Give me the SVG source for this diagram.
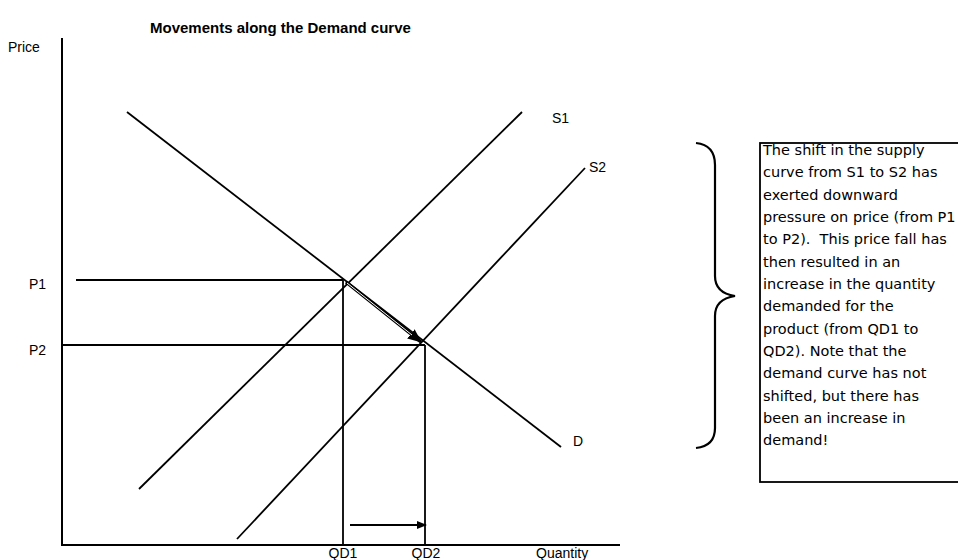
<svg xmlns="http://www.w3.org/2000/svg" width="958" height="560" viewBox="0 0 958 560">
<defs>
<style>
.ax{stroke:#000;stroke-width:2;fill:none}
.ln{stroke:#000;stroke-width:1.8;fill:none}
.lbl{font-family:"Liberation Sans",Arial,sans-serif;font-size:14px;fill:#000}
.note{font-family:"DejaVu Sans","Liberation Sans",sans-serif;font-size:14.5px;fill:#000}
</style>
<marker id="ah" markerWidth="10" markerHeight="8" refX="9" refY="4" orient="auto" markerUnits="userSpaceOnUse">
<path d="M0,0 L10,4 L0,8 Z" fill="#000"/>
</marker>
<marker id="ah2" markerWidth="14" markerHeight="12" refX="13" refY="6" orient="auto" markerUnits="userSpaceOnUse">
<path d="M0,0 L14,6 L0,12 Z" fill="#000"/>
</marker>
</defs>
<rect width="958" height="560" fill="#fff"/>
<text x="150" y="33" font-family="Liberation Sans,Arial,sans-serif" font-size="15" font-weight="bold">Movements along the Demand curve</text>
<g id="axes">
<line class="ax" x1="62" y1="38" x2="62" y2="546"/>
<line class="ax" x1="61" y1="545" x2="620" y2="545"/>
<text class="lbl" x="8" y="52">Price</text>
<text class="lbl" x="536" y="558">Quantity</text>
</g>
<g id="curve-D">
<line class="ln" x1="127" y1="112" x2="561" y2="447"/>
<text class="lbl" x="573" y="446">D</text>
</g>
<g id="curve-S1">
<line class="ln" x1="139" y1="489" x2="522" y2="112"/>
<text class="lbl" x="552" y="123">S1</text>
</g>
<g id="curve-S2">
<line class="ln" x1="237" y1="539" x2="585" y2="168"/>
<text class="lbl" x="589" y="172">S2</text>
</g>
<g id="price-lines">
<line class="ln" x1="76" y1="280" x2="343" y2="280"/>
<line class="ln" x1="62" y1="345" x2="425" y2="345"/>
<text class="lbl" x="29" y="289">P1</text>
<text class="lbl" x="29" y="355">P2</text>
</g>
<g id="quantity-lines">
<line class="ln" x1="343" y1="280" x2="343" y2="545"/>
<line class="ln" x1="425" y1="345" x2="425" y2="545"/>
<text class="lbl" x="343" y="558" text-anchor="middle">QD1</text>
<text class="lbl" x="426" y="558" text-anchor="middle">QD2</text>
</g>
<g id="connectors">
<line x1="346" y1="282" x2="421" y2="342" stroke="#000" stroke-width="3.5" marker-end="url(#ah2)"/>
<line x1="347" y1="283" x2="412" y2="335" stroke="#fff" stroke-width="1"/>
<line x1="350" y1="525" x2="426" y2="525" stroke="#000" stroke-width="1.8" marker-end="url(#ah)"/>
</g>
<g id="brace">
<path d="M696,143 Q715,145 715,165 L715,276 Q715,293 735,296 Q715,299 715,316 L715,428 Q715,446 696,448" fill="none" stroke="#000" stroke-width="2.2"/>
</g>
<g id="note">
<rect x="760" y="143" width="210" height="339" fill="#fff" stroke="#000" stroke-width="1.8"/>
<text class="note">
<tspan x="763" y="155">The shift in the supply</tspan>
<tspan x="763" y="177">curve from S1 to S2 has</tspan>
<tspan x="763" y="199.5">exerted downward</tspan>
<tspan x="763" y="222">pressure on price (from P1</tspan>
<tspan x="763" y="244">to P2).&#160; This price fall has</tspan>
<tspan x="763" y="266.5">then resulted in an</tspan>
<tspan x="763" y="289">increase in the quantity</tspan>
<tspan x="763" y="311">demanded for the</tspan>
<tspan x="763" y="333.5">product (from QD1 to</tspan>
<tspan x="763" y="356">QD2). Note that the</tspan>
<tspan x="763" y="378">demand curve has not</tspan>
<tspan x="763" y="400.5">shifted, but there has</tspan>
<tspan x="763" y="423">been an increase in</tspan>
<tspan x="763" y="445">demand!</tspan>
</text>
</g>
</svg>
